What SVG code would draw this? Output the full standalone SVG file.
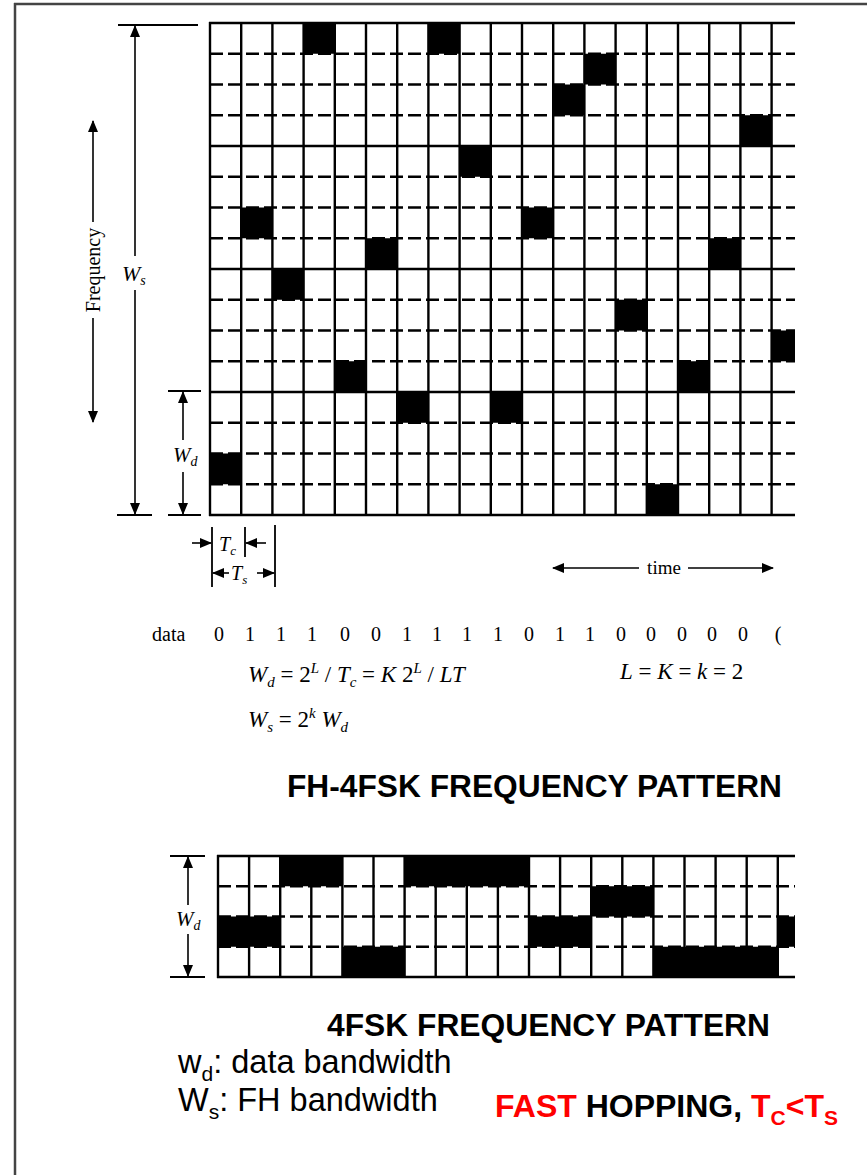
<svg xmlns="http://www.w3.org/2000/svg" width="867" height="1175" viewBox="0 0 867 1175">
<style>
  .bg{fill:#ffffff}
  .frame{stroke:#444;stroke-width:2.5;fill:none}
  .cell{fill:#000}
  .vl{stroke:#000;stroke-width:2.4}
  .hs{stroke:#000;stroke-width:2.4}
  .hd{stroke:#000;stroke-width:2.6;stroke-dasharray:13 5}
  .dim{stroke:#000;stroke-width:1.6;fill:none}
  .tick{stroke:#000;stroke-width:1.8}
  .serif{font-family:"Liberation Serif","Times New Roman",serif;fill:#000}
  .it{font-style:italic}
  .sans{font-family:"Liberation Sans",Arial,sans-serif;fill:#000}
  .bold{font-weight:bold}
  .red{fill:#ff0000}
</style>
<defs>
  <marker id="ah" markerUnits="userSpaceOnUse" markerWidth="12" markerHeight="10" refX="11" refY="5" orient="auto-start-reverse" viewBox="0 0 12 10">
    <path d="M0,0 L12,5 L0,10 Z" fill="#000"/>
  </marker>
</defs>
<rect class="bg" x="0" y="0" width="867" height="1175"/>
<g id="frame">
  <line class="frame" x1="14" y1="4" x2="867" y2="4"/>
  <line class="frame" x1="15" y1="3" x2="15" y2="1175"/>
</g>

<g id="fh-grid">
  <g id="fh-cells">
    <rect class="cell" x="210" y="453.5" width="31.2" height="30.75"/>
    <rect class="cell" x="241.2" y="207.5" width="31.2" height="30.75"/>
    <rect class="cell" x="272.4" y="269" width="31.2" height="30.75"/>
    <rect class="cell" x="303.6" y="23" width="31.2" height="30.75"/>
    <rect class="cell" x="334.8" y="361.25" width="31.2" height="30.75"/>
    <rect class="cell" x="366" y="238.25" width="31.2" height="30.75"/>
    <rect class="cell" x="397.2" y="392" width="31.2" height="30.75"/>
    <rect class="cell" x="428.4" y="23" width="31.2" height="30.75"/>
    <rect class="cell" x="459.6" y="146" width="31.2" height="30.75"/>
    <rect class="cell" x="490.8" y="392" width="31.2" height="30.75"/>
    <rect class="cell" x="522" y="207.5" width="31.2" height="30.75"/>
    <rect class="cell" x="553.2" y="84.5" width="31.2" height="30.75"/>
    <rect class="cell" x="584.4" y="53.75" width="31.2" height="30.75"/>
    <rect class="cell" x="615.6" y="299.75" width="31.2" height="30.75"/>
    <rect class="cell" x="646.8" y="484.25" width="31.2" height="30.75"/>
    <rect class="cell" x="678" y="361.25" width="31.2" height="30.75"/>
    <rect class="cell" x="709.2" y="238.25" width="31.2" height="30.75"/>
    <rect class="cell" x="740.4" y="115.25" width="31.2" height="30.75"/>
    <rect class="cell" x="771.6" y="330.5" width="23.4" height="30.75"/>
  </g>
  <g id="fh-vlines">
    <line class="vl" x1="210" y1="22" x2="210" y2="516"/>
    <line class="vl" x1="241.2" y1="23" x2="241.2" y2="515"/>
    <line class="vl" x1="272.4" y1="23" x2="272.4" y2="515"/>
    <line class="vl" x1="303.6" y1="23" x2="303.6" y2="515"/>
    <line class="vl" x1="334.8" y1="23" x2="334.8" y2="515"/>
    <line class="vl" x1="366" y1="23" x2="366" y2="515"/>
    <line class="vl" x1="397.2" y1="23" x2="397.2" y2="515"/>
    <line class="vl" x1="428.4" y1="23" x2="428.4" y2="515"/>
    <line class="vl" x1="459.6" y1="23" x2="459.6" y2="515"/>
    <line class="vl" x1="490.8" y1="23" x2="490.8" y2="515"/>
    <line class="vl" x1="522" y1="23" x2="522" y2="515"/>
    <line class="vl" x1="553.2" y1="23" x2="553.2" y2="515"/>
    <line class="vl" x1="584.4" y1="23" x2="584.4" y2="515"/>
    <line class="vl" x1="615.6" y1="23" x2="615.6" y2="515"/>
    <line class="vl" x1="646.8" y1="23" x2="646.8" y2="515"/>
    <line class="vl" x1="678" y1="23" x2="678" y2="515"/>
    <line class="vl" x1="709.2" y1="23" x2="709.2" y2="515"/>
    <line class="vl" x1="740.4" y1="23" x2="740.4" y2="515"/>
    <line class="vl" x1="771.6" y1="23" x2="771.6" y2="515"/>
  </g>
  <g id="fh-hlines">
    <line class="hs" x1="209" y1="23" x2="795" y2="23"/>
    <line class="hd" x1="210" y1="53.75" x2="795" y2="53.75"/>
    <line class="hd" x1="210" y1="84.5" x2="795" y2="84.5"/>
    <line class="hd" x1="210" y1="115.25" x2="795" y2="115.25"/>
    <line class="hs" x1="210" y1="146" x2="795" y2="146"/>
    <line class="hd" x1="210" y1="176.75" x2="795" y2="176.75"/>
    <line class="hd" x1="210" y1="207.5" x2="795" y2="207.5"/>
    <line class="hd" x1="210" y1="238.25" x2="795" y2="238.25"/>
    <line class="hs" x1="210" y1="269" x2="795" y2="269"/>
    <line class="hd" x1="210" y1="299.75" x2="795" y2="299.75"/>
    <line class="hd" x1="210" y1="330.5" x2="795" y2="330.5"/>
    <line class="hd" x1="210" y1="361.25" x2="795" y2="361.25"/>
    <line class="hs" x1="210" y1="392" x2="795" y2="392"/>
    <line class="hd" x1="210" y1="422.75" x2="795" y2="422.75"/>
    <line class="hd" x1="210" y1="453.5" x2="795" y2="453.5"/>
    <line class="hd" x1="210" y1="484.25" x2="795" y2="484.25"/>
    <line class="hs" x1="209" y1="515" x2="795" y2="515"/>
  </g>
</g>

<g id="dimension-ticks">
  <line class="tick" x1="118" y1="25" x2="198" y2="25"/>
  <line class="tick" x1="117" y1="515" x2="152" y2="515"/>
  <line class="tick" x1="168" y1="391" x2="201" y2="391"/>
  <line class="tick" x1="168" y1="515" x2="201" y2="515"/>
  <line class="tick" x1="212" y1="527" x2="212" y2="587"/>
  <line class="tick" x1="245" y1="527" x2="245" y2="557"/>
  <line class="tick" x1="275" y1="525" x2="275" y2="587"/>
  <line class="tick" x1="170" y1="856" x2="205" y2="856"/>
  <line class="tick" x1="170" y1="977" x2="205" y2="977"/>
</g>

<g id="connectors">
  <line class="dim" x1="135" y1="256" x2="135" y2="26" marker-end="url(#ah)"/>
  <line class="dim" x1="135" y1="290" x2="135" y2="514" marker-end="url(#ah)"/>
  <line class="dim" x1="93" y1="222" x2="93" y2="121" marker-end="url(#ah)"/>
  <line class="dim" x1="93" y1="318" x2="93" y2="422" marker-end="url(#ah)"/>
  <line class="dim" x1="183" y1="440" x2="183" y2="392" marker-end="url(#ah)"/>
  <line class="dim" x1="183" y1="472" x2="183" y2="514" marker-end="url(#ah)"/>
  <line class="dim" x1="192" y1="543" x2="211" y2="543" marker-end="url(#ah)"/>
  <line class="dim" x1="266" y1="543" x2="246" y2="543" marker-end="url(#ah)"/>
  <line class="dim" x1="229" y1="573" x2="213" y2="573" marker-end="url(#ah)"/>
  <line class="dim" x1="257" y1="573" x2="274" y2="573" marker-end="url(#ah)"/>
  <line class="dim" x1="639" y1="568" x2="553" y2="568" marker-end="url(#ah)"/>
  <line class="dim" x1="688" y1="568" x2="773" y2="568" marker-end="url(#ah)"/>
  <line class="dim" x1="188" y1="905" x2="188" y2="857" marker-end="url(#ah)"/>
  <line class="dim" x1="188" y1="934" x2="188" y2="976" marker-end="url(#ah)"/>
</g>

<g id="label-frequency">
  <text class="serif" font-size="20" text-anchor="middle" transform="translate(100,270) rotate(-90)">Frequency</text>
</g>
<g id="label-ws">
  <text class="serif it" x="122" y="281" font-size="22">W<tspan font-size="14" dy="4">s</tspan></text>
</g>
<g id="label-wd">
  <text class="serif it" x="173" y="462" font-size="21">W<tspan font-size="14" dy="4">d</tspan></text>
</g>
<g id="label-tc">
  <text class="serif it" x="219" y="551" font-size="20">T<tspan font-size="13" dy="4">c</tspan></text>
</g>
<g id="label-ts">
  <text class="serif it" x="231" y="580" font-size="20">T<tspan font-size="13" dy="4">s</tspan></text>
</g>
<g id="label-time">
  <text class="serif" x="664" y="574" font-size="19" text-anchor="middle">time</text>
</g>

<g id="data-row" class="serif" font-size="20">
  <text x="152" y="641">data</text>
  <g text-anchor="middle">
    <text x="219" y="641">0</text>
    <text x="250" y="641">1</text>
    <text x="281" y="641">1</text>
    <text x="312" y="641">1</text>
    <text x="345" y="641">0</text>
    <text x="376" y="641">0</text>
    <text x="407" y="641">1</text>
    <text x="437" y="641">1</text>
    <text x="467" y="641">1</text>
    <text x="498" y="641">1</text>
    <text x="529" y="641">0</text>
    <text x="560" y="641">1</text>
    <text x="590" y="641">1</text>
    <text x="621" y="641">0</text>
    <text x="651" y="641">0</text>
    <text x="682" y="641">0</text>
    <text x="712" y="641">0</text>
    <text x="743" y="641">0</text>
    <text x="778" y="641">(</text>
  </g>
</g>

<g id="formulas" class="serif" font-size="23">
  <text x="248" y="682"><tspan class="it">W</tspan><tspan class="it" font-size="15" dy="5">d</tspan><tspan dy="-5"> = 2</tspan><tspan class="it" font-size="15" dy="-9">L</tspan><tspan dy="9"> / </tspan><tspan class="it">T</tspan><tspan class="it" font-size="15" dy="5">c</tspan><tspan dy="-5"> = </tspan><tspan class="it">K</tspan><tspan> 2</tspan><tspan class="it" font-size="15" dy="-9">L</tspan><tspan dy="9"> / </tspan><tspan class="it">LT</tspan></text>
  <text x="620" y="679"><tspan class="it">L</tspan> = <tspan class="it">K</tspan> = <tspan class="it">k</tspan> = 2</text>
  <text x="248" y="727"><tspan class="it">W</tspan><tspan class="it" font-size="15" dy="5">s</tspan><tspan dy="-5"> = 2</tspan><tspan class="it" font-size="15" dy="-9">k</tspan><tspan dy="9"> </tspan><tspan class="it">W</tspan><tspan class="it" font-size="15" dy="5">d</tspan></text>
</g>

<g id="title-fh">
  <text class="sans bold" x="287" y="797" font-size="31" textLength="495" lengthAdjust="spacingAndGlyphs">FH-4FSK FREQUENCY PATTERN</text>
</g>

<g id="fsk-grid">
  <g id="fsk-vlines">
    <line class="vl" x1="218" y1="855" x2="218" y2="978"/>
    <line class="vl" x1="249.1" y1="856" x2="249.1" y2="977"/>
    <line class="vl" x1="280.2" y1="856" x2="280.2" y2="977"/>
    <line class="vl" x1="311.3" y1="856" x2="311.3" y2="977"/>
    <line class="vl" x1="342.4" y1="856" x2="342.4" y2="977"/>
    <line class="vl" x1="373.5" y1="856" x2="373.5" y2="977"/>
    <line class="vl" x1="404.6" y1="856" x2="404.6" y2="977"/>
    <line class="vl" x1="435.7" y1="856" x2="435.7" y2="977"/>
    <line class="vl" x1="466.8" y1="856" x2="466.8" y2="977"/>
    <line class="vl" x1="497.9" y1="856" x2="497.9" y2="977"/>
    <line class="vl" x1="529" y1="856" x2="529" y2="977"/>
    <line class="vl" x1="560.1" y1="856" x2="560.1" y2="977"/>
    <line class="vl" x1="591.2" y1="856" x2="591.2" y2="977"/>
    <line class="vl" x1="622.3" y1="856" x2="622.3" y2="977"/>
    <line class="vl" x1="653.4" y1="856" x2="653.4" y2="977"/>
    <line class="vl" x1="684.5" y1="856" x2="684.5" y2="977"/>
    <line class="vl" x1="715.6" y1="856" x2="715.6" y2="977"/>
    <line class="vl" x1="746.7" y1="856" x2="746.7" y2="977"/>
    <line class="vl" x1="777.8" y1="856" x2="777.8" y2="977"/>
  </g>
  <g id="fsk-hlines">
    <line class="hs" x1="217" y1="856" x2="795" y2="856"/>
    <line class="hd" x1="218" y1="886.25" x2="795" y2="886.25"/>
    <line class="hd" x1="218" y1="916.5" x2="795" y2="916.5"/>
    <line class="hd" x1="218" y1="946.75" x2="795" y2="946.75"/>
    <line class="hs" x1="217" y1="977" x2="795" y2="977"/>
  </g>
  <g id="fsk-cells">
    <rect class="cell" x="280.2" y="856" width="62.2" height="30.25"/>
    <rect class="cell" x="404.6" y="856" width="124.4" height="30.25"/>
    <rect class="cell" x="591.2" y="886.25" width="62.2" height="30.25"/>
    <rect class="cell" x="218" y="916.5" width="62.2" height="30.25"/>
    <rect class="cell" x="529" y="916.5" width="62.2" height="30.25"/>
    <rect class="cell" x="777.8" y="916.5" width="17.2" height="30.25"/>
    <rect class="cell" x="342.4" y="946.75" width="62.2" height="30.25"/>
    <rect class="cell" x="653.4" y="946.75" width="124.4" height="30.25"/>
  </g>
</g>
<g id="label-wd-2">
  <text class="serif it" x="176" y="926" font-size="21">W<tspan font-size="14" dy="4">d</tspan></text>
</g>

<g id="title-fsk">
  <text class="sans bold" x="327" y="1036" font-size="31" textLength="443" lengthAdjust="spacingAndGlyphs">4FSK FREQUENCY PATTERN</text>
</g>

<g id="legend">
  <text class="sans" x="178" y="1073" font-size="32.5">w<tspan font-size="21" dy="8">d</tspan><tspan dy="-8">: data bandwidth</tspan></text>
  <text class="sans" x="178" y="1111" font-size="32.5">W<tspan font-size="21" dy="8">s</tspan><tspan dy="-8">: FH bandwidth</tspan></text>
</g>
<g id="note">
  <text class="sans bold" x="495" y="1117" font-size="32"><tspan class="red">FAST</tspan> HOPPING, <tspan class="red">T</tspan><tspan class="red" font-size="21" dy="8">C</tspan><tspan class="red" dy="-8">&lt;T</tspan><tspan class="red" font-size="21" dy="8">S</tspan></text>
</g>
</svg>
